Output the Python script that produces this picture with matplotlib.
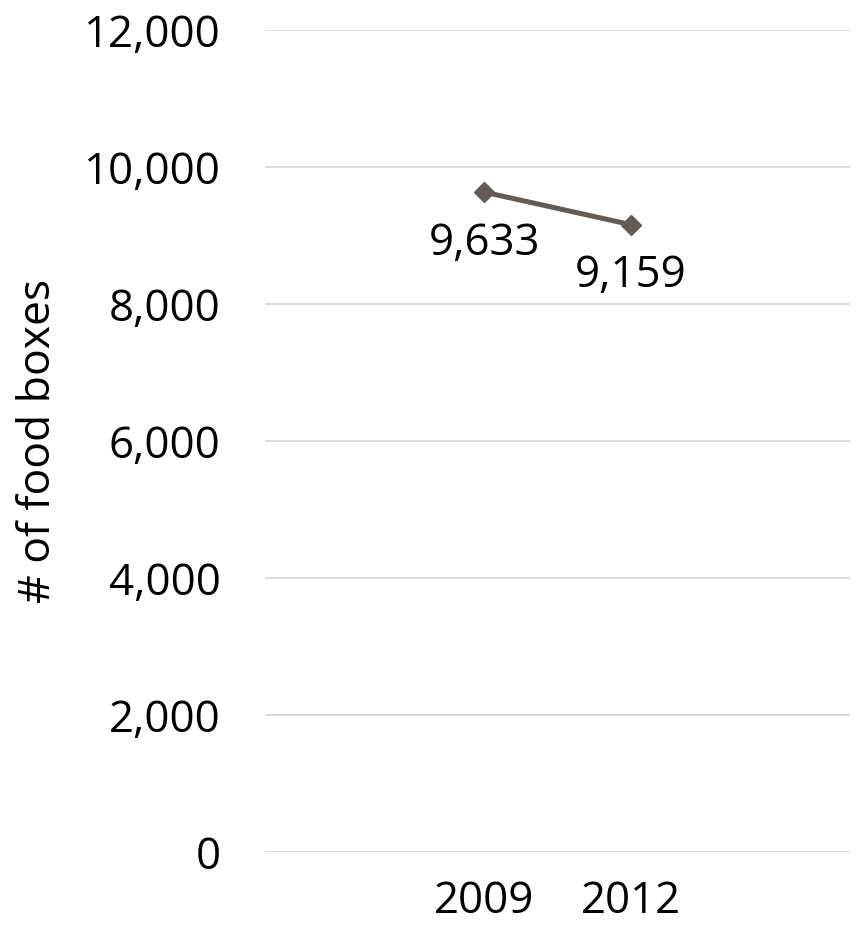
import matplotlib
matplotlib.use("Agg")
import matplotlib.pyplot as plt
from matplotlib.ticker import FuncFormatter

years = ["2009", "2012"]
food_boxes = [9633, 9159]
y_ticks = [0, 2000, 4000, 6000, 8000, 10000, 12000]

plt.rcParams["font.family"] = ["Open Sans", "DejaVu Sans"]

fig = plt.figure(figsize=(8.57, 9.26), dpi=100)
ax = fig.add_axes([265 / 857, 1 - 852 / 926, 585 / 857, (852 - 30) / 926])

x = list(range(len(years)))
ax.plot(x, food_boxes, color="#665a52", lw=3.6, marker="D", ms=10,
        markeredgecolor="#665a52", markerfacecolor="#665a52", zorder=3)

for xi, v in zip(x, food_boxes):
    ax.annotate(f"{v:,}", (xi, v), xytext=(0, -37), textcoords="offset points",
                ha="center", va="center", fontsize=31.5, color="black")

ax.set_xlim(-1.5, 2.5)
ax.set_ylim(0, 12000)
ax.set_xticks(x)
ax.set_xticklabels(years)
ax.set_yticks(y_ticks)
ax.yaxis.set_major_formatter(FuncFormatter(lambda v, p: f"{int(v):,}"))
ax.tick_params(axis="both", length=0, labelsize=31.5, colors="black")
ax.tick_params(axis="y", pad=32)
ax.tick_params(axis="x", pad=20)

ax.grid(axis="y", color="#d9d9d9", lw=1.3)
ax.set_axisbelow(True)
for s in ax.spines.values():
    s.set_visible(False)

ax.set_ylabel("# of food boxes", fontsize=32, labelpad=16)

fig.savefig("out.png", dpi=100)
